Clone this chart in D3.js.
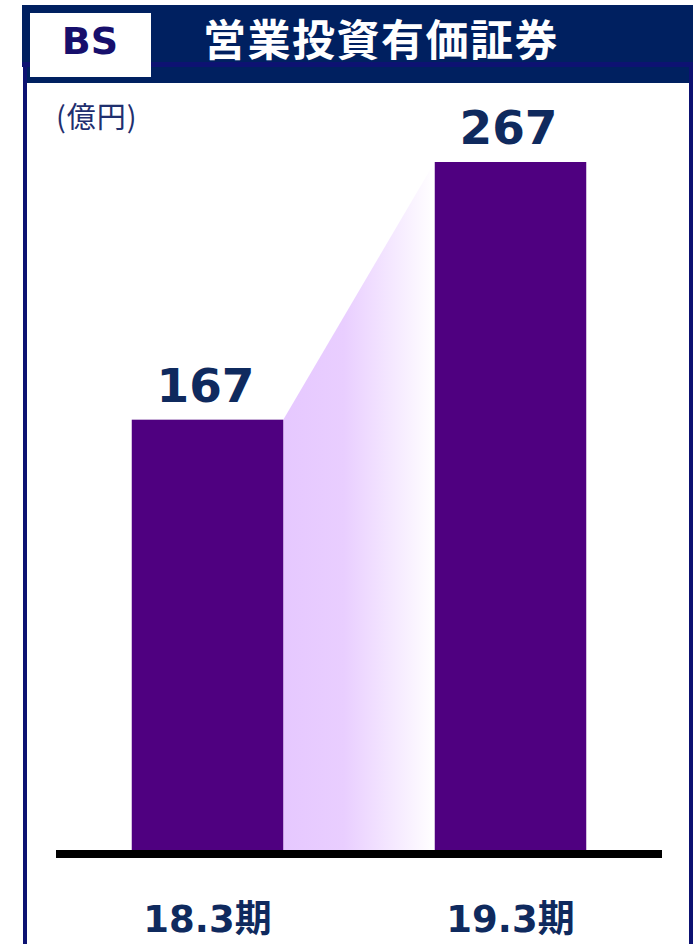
<!DOCTYPE html>
<html><head><meta charset="utf-8">
<script src="https://cdn.jsdelivr.net/npm/d3@7"></script>
<style>html,body{margin:0;padding:0;background:#fff;}svg{display:block;}</style>
</head><body>
<svg id="c" width="696" height="944"></svg>
<script>
const title = "営業投資有価証券";
const tag = "BS";
const unitLabel = "(億円)";
const categories = ["18.3期", "19.3期"];
const values = [167, 267];

const svg = d3.select("#c");
const W = 696, H = 944;
const navy = "#002060", frameCol = "#0D1272", barCol = "#4F0080", textCol = "#0F2A5E";

// frame
svg.append("rect").attr("x", 23).attr("y", 62).attr("width", 4).attr("height", H - 62).attr("fill", frameCol);
svg.append("rect").attr("x", 689).attr("y", 62).attr("width", 4).attr("height", H - 62).attr("fill", frameCol);
// header band
svg.append("rect").attr("x", 22).attr("y", 5).attr("width", 671).attr("height", 57).attr("fill", navy);
svg.append("rect").attr("x", 22).attr("y", 62).attr("width", 671).attr("height", 5).attr("fill", frameCol);
svg.append("rect").attr("x", 27).attr("y", 67).attr("width", 662).attr("height", 16).attr("fill", navy);
// BS box
svg.append("rect").attr("x", 30).attr("y", 13).attr("width", 121).attr("height", 64).attr("fill", "#fff");
svg.append("text").attr("x", 90).attr("y", 54).attr("text-anchor", "middle")
  .attr("font-family", "DejaVu Sans").attr("font-weight", "bold").attr("font-size", 38)
  .attr("fill", "#170F6C").text(tag);
svg.append("text").attr("x", 381).attr("y", 56).attr("text-anchor", "middle")
  .attr("font-family", "Noto Sans CJK JP").attr("font-weight", "bold").attr("font-size", 43)
  .attr("letter-spacing", 1.5).attr("fill", "#fff").text(title);
svg.append("text").attr("x", 56).attr("y", 128)
  .attr("font-family", "Noto Sans CJK JP").attr("font-size", 29).attr("letter-spacing", 1)
  .attr("fill", "#1F2F6F").text(unitLabel);

// scales
const x = d3.scaleBand().domain(categories).range([56, 662]).paddingInner(0.5).paddingOuter(0.25);
const y = d3.scaleLinear().domain([0, 267]).range([850, 162]);

// gradient connector
const defs = svg.append("defs");
const g = defs.append("linearGradient").attr("id", "gr").attr("x1", "0").attr("x2", "1").attr("y1", "0").attr("y2", "0");
g.append("stop").attr("offset", "0%").attr("stop-color", "#E6C8FF");
g.append("stop").attr("offset", "40%").attr("stop-color", "#E9CEFF");
g.append("stop").attr("offset", "100%").attr("stop-color", "#FFFFFF");

const x1 = x(categories[0]) + x.bandwidth(), x2 = x(categories[1]);
svg.append("path")
  .attr("d", d3.line()([[x1, y(values[0])], [x2, y(values[1])], [x2, y(0)], [x1, y(0)]]) + "Z")
  .attr("fill", "url(#gr)");

// bars
svg.selectAll("rect.bar").data(values).join("rect").attr("class", "bar")
  .attr("x", (d, i) => x(categories[i])).attr("width", x.bandwidth())
  .attr("y", d => y(d)).attr("height", d => y(0) - y(d)).attr("fill", barCol);

// baseline
svg.append("rect").attr("x", 56).attr("y", y(0)).attr("width", 606).attr("height", 8).attr("fill", "#000");

// value labels
svg.selectAll("text.val").data(values).join("text").attr("class", "val")
  .attr("x", (d, i) => x(categories[i]) + x.bandwidth() / 2 - 2)
  .attr("y", d => y(d) - 18).attr("text-anchor", "middle")
  .attr("font-family", "DejaVu Sans").attr("font-weight", "bold").attr("font-size", 47)
  .attr("fill", textCol).text(d => d);

// category labels
svg.selectAll("text.cat").data(categories).join("text").attr("class", "cat")
  .attr("x", d => x(d) + x.bandwidth() / 2).attr("y", 932).attr("text-anchor", "middle")
  .attr("font-family", "DejaVu Sans, Noto Sans CJK JP").attr("font-weight", "bold").attr("font-size", 37)
  .attr("fill", textCol).text(d => d);
</script>
</body></html>
